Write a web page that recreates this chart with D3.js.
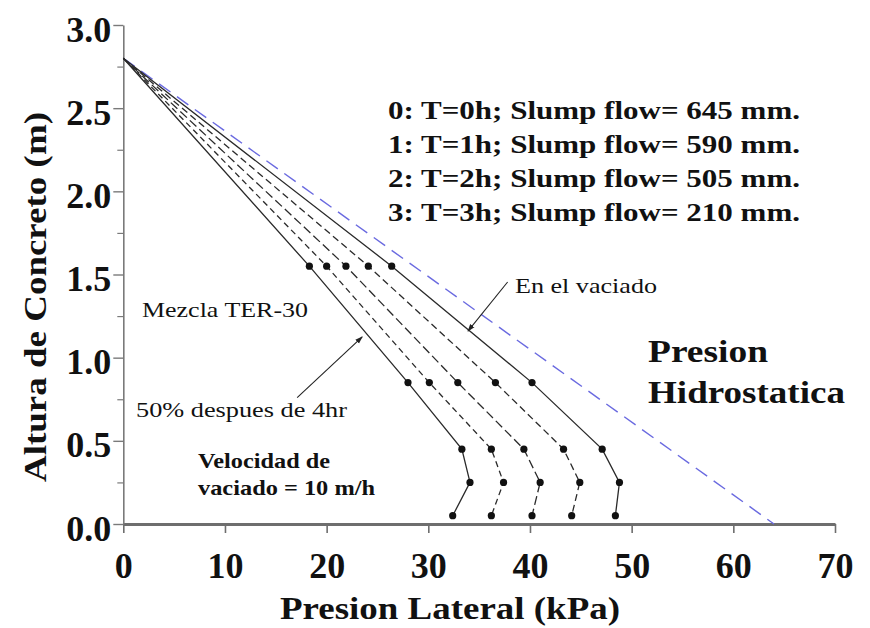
<!DOCTYPE html>
<html>
<head>
<meta charset="utf-8">
<script src="https://cdn.jsdelivr.net/npm/d3@7"></script>
<style>
  body { margin: 0; background: #fff; }
  text { font-family: "Liberation Serif", "Times New Roman", serif; fill: #111; }
</style>
</head>
<body>
<div id="chart"></div>
<script>
// heights (m) where the measured points sit; first one is the top of the pour
const heights = [2.8, 1.55, 0.85, 0.45, 0.25, 0.05];
// lateral pressure (kPa) for each curve
const presT0 = [0, 26.4, 40.2, 47.1, 48.8, 48.4];
const presT1 = [0, 24.1, 36.6, 43.3, 44.9, 44.1];
const presT2 = [0, 21.9, 32.9, 39.4, 41.0, 40.2];
const presT3 = [0, 20.0, 30.1, 36.2, 37.4, 36.2];
const presT4 = [0, 18.3, 28.0, 33.3, 34.1, 32.4];
// hydrostatic line
const hydroHeights = [2.8, 0];
const hydroPres = [0, 64];

const xTicks = [0, 10, 20, 30, 40, 50, 60, 70];
const yTicks = [0, 0.5, 1.0, 1.5, 2.0, 2.5, 3.0];
const yMinorTicks = [0.25, 0.75, 1.25, 1.75, 2.25, 2.75];

const legendLines = [
  "0: T=0h; Slump flow= 645 mm.",
  "1: T=1h; Slump flow= 590 mm.",
  "2: T=2h; Slump flow= 505 mm.",
  "3: T=3h; Slump flow= 210 mm."
];

const width = 870, height = 628;

const svg = d3.select("#chart").append("svg")
  .attr("width", width)
  .attr("height", height);

const x = d3.scaleLinear().domain([0, 70]).range([123.3, 835]);
const y = d3.scaleLinear().domain([0, 3]).range([524, 25]);

svg.append("defs").append("marker")
  .attr("id", "arrow")
  .attr("viewBox", "0 0 10 10")
  .attr("refX", 9).attr("refY", 5)
  .attr("markerWidth", 7).attr("markerHeight", 7)
  .attr("orient", "auto")
  .append("path")
  .attr("d", "M0,1.5 L10,5 L0,8.5 Z")
  .attr("fill", "#222");

// axes
const xAxis = svg.append("g")
  .attr("transform", `translate(0,${y(0)})`)
  .call(d3.axisBottom(x).tickValues(xTicks).tickSize(9).tickSizeOuter(0));
xAxis.select(".domain").attr("stroke", "#6e6e6e").attr("stroke-width", 3);
xAxis.selectAll(".tick line").attr("stroke", "#6e6e6e").attr("stroke-width", 1.6);
xAxis.selectAll(".tick text")
  .attr("y", 54).attr("dy", 0)
  .attr("font-size", 36).attr("font-weight", "bold")
  .attr("fill", "#111");

const yAxis = svg.append("g")
  .attr("transform", `translate(${x(0)},0)`)
  .call(d3.axisLeft(y).tickValues(yTicks).tickSize(10).tickSizeOuter(0).tickFormat(d3.format(".1f")));
yAxis.select(".domain").attr("stroke", "#7a7a7a").attr("stroke-width", 1.6);
yAxis.selectAll(".tick line").attr("stroke", "#7a7a7a").attr("stroke-width", 1.4);
yAxis.selectAll(".tick text")
  .attr("x", -12).attr("dy", 16)
  .attr("font-size", 36).attr("font-weight", "bold")
  .attr("fill", "#111");

const yMinor = svg.append("g")
  .attr("transform", `translate(${x(0)},0)`)
  .call(d3.axisLeft(y).tickValues(yMinorTicks).tickSize(6).tickSizeOuter(0).tickFormat(""));
yMinor.select(".domain").remove();
yMinor.selectAll(".tick line").attr("stroke", "#7a7a7a").attr("stroke-width", 1.2);

// axis titles
svg.append("text")
  .attr("x", 280).attr("y", 619)
  .attr("font-size", 31).attr("font-weight", "bold")
  .attr("textLength", 340).attr("lengthAdjust", "spacingAndGlyphs")
  .text("Presion Lateral (kPa)");

svg.append("text")
  .attr("transform", "translate(46,482) rotate(-90)")
  .attr("font-size", 31).attr("font-weight", "bold")
  .attr("textLength", 370).attr("lengthAdjust", "spacingAndGlyphs")
  .text("Altura de Concreto (m)");

// hydrostatic pressure line
const line = d3.line().x(d => x(d[0])).y(d => y(d[1]));

svg.append("path")
  .datum(d3.zip(hydroPres, hydroHeights))
  .attr("d", line)
  .attr("fill", "none")
  .attr("stroke", "#6a6ae0")
  .attr("stroke-width", 1.4)
  .attr("stroke-dasharray", "14,8");

// pressure curves
const curves = [
  { pres: presT0, dash: null },
  { pres: presT1, dash: "7,4" },
  { pres: presT2, dash: "9,4" },
  { pres: presT3, dash: "6,4" },
  { pres: presT4, dash: null }
];

curves.forEach(c => {
  const pts = d3.zip(c.pres, heights);
  svg.append("path")
    .datum(pts)
    .attr("d", line)
    .attr("fill", "none")
    .attr("stroke", "#2a2a2a")
    .attr("stroke-width", 1.3)
    .attr("stroke-dasharray", c.dash);

  svg.append("g").selectAll("circle")
    .data(pts.slice(1))
    .enter().append("circle")
    .attr("cx", d => x(d[0]))
    .attr("cy", d => y(d[1]))
    .attr("r", 3.6)
    .attr("fill", "#111");
});

// legend block
svg.append("g").selectAll("text")
  .data(legendLines)
  .enter().append("text")
  .attr("x", 388)
  .attr("y", (d, i) => 118.5 + i * 34)
  .attr("font-size", 25).attr("font-weight", "bold")
  .attr("textLength", 412).attr("lengthAdjust", "spacingAndGlyphs")
  .text(d => d);

// annotations
const notes = [
  { t: "En el vaciado", x: 515, y: 292.5, w: 142, fs: 21, bold: false },
  { t: "Mezcla TER-30", x: 142, y: 316.5, w: 166, fs: 21, bold: false },
  { t: "50% despues de 4hr", x: 136, y: 417, w: 211, fs: 21, bold: false },
  { t: "Velocidad de", x: 198, y: 468, w: 132, fs: 21, bold: true },
  { t: "vaciado = 10 m/h", x: 198, y: 495, w: 177, fs: 21, bold: true },
  { t: "Presion", x: 648, y: 362, w: 120, fs: 31, bold: true },
  { t: "Hidrostatica", x: 648, y: 403, w: 197, fs: 31, bold: true }
];

svg.append("g").selectAll("text")
  .data(notes)
  .enter().append("text")
  .attr("x", d => d.x).attr("y", d => d.y)
  .attr("font-size", d => d.fs)
  .attr("font-weight", d => d.bold ? "bold" : "normal")
  .attr("textLength", d => d.w).attr("lengthAdjust", "spacingAndGlyphs")
  .text(d => d.t);

// arrows (data coordinates)
const arrows = [
  [[37.8, 1.455], [33.9, 1.16]],
  [[17.1, 0.76], [23.5, 1.125]]
];
svg.append("g").selectAll("path")
  .data(arrows)
  .enter().append("path")
  .attr("d", line)
  .attr("stroke", "#222")
  .attr("stroke-width", 1.1)
  .attr("fill", "none")
  .attr("marker-end", "url(#arrow)");
</script>
</body>
</html>
